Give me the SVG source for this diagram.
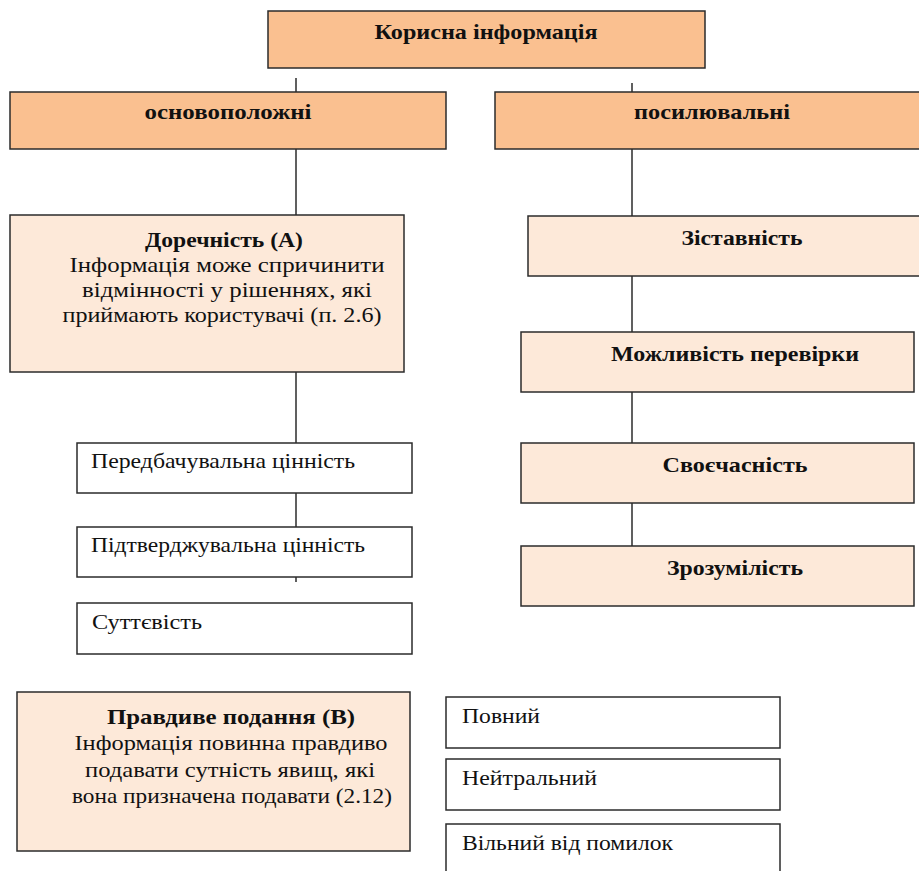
<svg xmlns="http://www.w3.org/2000/svg" width="919" height="871" viewBox="0 0 919 871">
<style>
.dark{fill:#FAC090;stroke:#2b2b2b;stroke-width:1.5}
.light{fill:#FDE9D9;stroke:#2b2b2b;stroke-width:1.5}
.white{fill:#ffffff;stroke:#2b2b2b;stroke-width:1.5}
.b{font-family:"Liberation Serif","Times New Roman",serif;font-weight:bold;font-size:22px;fill:#111}
.t{font-family:"Liberation Serif","Times New Roman",serif;font-size:22px;fill:#111}
.c{text-anchor:middle}
#connectors line{stroke:#2b2b2b;stroke-width:1.5}
</style>
<rect width="919" height="871" fill="#ffffff"/>
<g id="connectors">
<line x1="296" y1="78" x2="296" y2="92"/>
<line x1="632" y1="83" x2="632" y2="92"/>
<line x1="296" y1="149" x2="296" y2="215"/>
<line x1="632" y1="149" x2="632" y2="216"/>
<line x1="296" y1="372" x2="296" y2="443"/>
<line x1="296" y1="493" x2="296" y2="527"/>
<line x1="296" y1="577" x2="296" y2="582"/>
<line x1="632" y1="276" x2="632" y2="332"/>
<line x1="632" y1="392" x2="632" y2="443"/>
<line x1="632" y1="503" x2="632" y2="546"/>
</g>
<g id="root"><rect class="dark" x="268" y="11" width="437" height="57"/><text class="b c" x="486" y="39" textLength="223" lengthAdjust="spacingAndGlyphs">Корисна інформація</text></g>
<g id="osnov"><rect class="dark" x="10" y="92" width="436" height="57"/><text class="b c" x="228" y="119" textLength="167" lengthAdjust="spacingAndGlyphs">основоположні</text></g>
<g id="posyl"><rect class="dark" x="495" y="92" width="430" height="57"/><text class="b c" x="712" y="119" textLength="156" lengthAdjust="spacingAndGlyphs">посилювальні</text></g>
<g id="dorech"><rect class="light" x="10" y="215" width="394" height="157"/>
<text class="b c" x="224" y="247" textLength="158" lengthAdjust="spacingAndGlyphs">Доречність (А)</text>
<text class="t c" x="227" y="272" textLength="315" lengthAdjust="spacingAndGlyphs">Інформація може спричинити</text>
<text class="t c" x="227" y="297" textLength="290" lengthAdjust="spacingAndGlyphs">відмінності у рішеннях, які</text>
<text class="t c" x="222" y="322" textLength="319" lengthAdjust="spacingAndGlyphs">приймають користувачі (п. 2.6)</text></g>
<g id="peredb"><rect class="white" x="77" y="443" width="335" height="50"/><text class="t" x="91" y="468" textLength="264" lengthAdjust="spacingAndGlyphs">Передбачувальна цінність</text></g>
<g id="pidtv"><rect class="white" x="77" y="527" width="335" height="50"/><text class="t" x="91" y="552" textLength="274" lengthAdjust="spacingAndGlyphs">Підтверджувальна цінність</text></g>
<g id="sutt"><rect class="white" x="77" y="603" width="335" height="51"/><text class="t" x="92" y="629" textLength="110" lengthAdjust="spacingAndGlyphs">Суттєвість</text></g>
<g id="zist"><rect class="light" x="528" y="216" width="395" height="60"/><text class="b c" x="742" y="245" textLength="121" lengthAdjust="spacingAndGlyphs">Зіставність</text></g>
<g id="mozhl"><rect class="light" x="521" y="332" width="393" height="60"/><text class="b c" x="735" y="361" textLength="248" lengthAdjust="spacingAndGlyphs">Можливість перевірки</text></g>
<g id="svoie"><rect class="light" x="521" y="443" width="393" height="60"/><text class="b c" x="735" y="472" textLength="145" lengthAdjust="spacingAndGlyphs">Своєчасність</text></g>
<g id="zroz"><rect class="light" x="521" y="546" width="393" height="60"/><text class="b c" x="735" y="575" textLength="136" lengthAdjust="spacingAndGlyphs">Зрозумілість</text></g>
<g id="pravd"><rect class="light" x="17" y="692" width="393" height="159"/>
<text class="b c" x="231" y="724" textLength="248" lengthAdjust="spacingAndGlyphs">Правдиве подання (В)</text>
<text class="t c" x="231" y="750" textLength="313" lengthAdjust="spacingAndGlyphs">Інформація повинна правдиво</text>
<text class="t c" x="230" y="777" textLength="290" lengthAdjust="spacingAndGlyphs">подавати сутність явищ, які</text>
<text class="t c" x="232" y="803" textLength="320" lengthAdjust="spacingAndGlyphs">вона призначена подавати (2.12)</text></g>
<g id="povnyi"><rect class="white" x="446" y="697" width="334" height="51"/><text class="t" x="462" y="723" textLength="78" lengthAdjust="spacingAndGlyphs">Повний</text></g>
<g id="neitr"><rect class="white" x="446" y="759" width="334" height="51"/><text class="t" x="462" y="785" textLength="135" lengthAdjust="spacingAndGlyphs">Нейтральний</text></g>
<g id="vilnyi"><rect class="white" x="446" y="824" width="334" height="60"/><text class="t" x="462" y="850" textLength="211" lengthAdjust="spacingAndGlyphs">Вільний від помилок</text></g>
</svg>
